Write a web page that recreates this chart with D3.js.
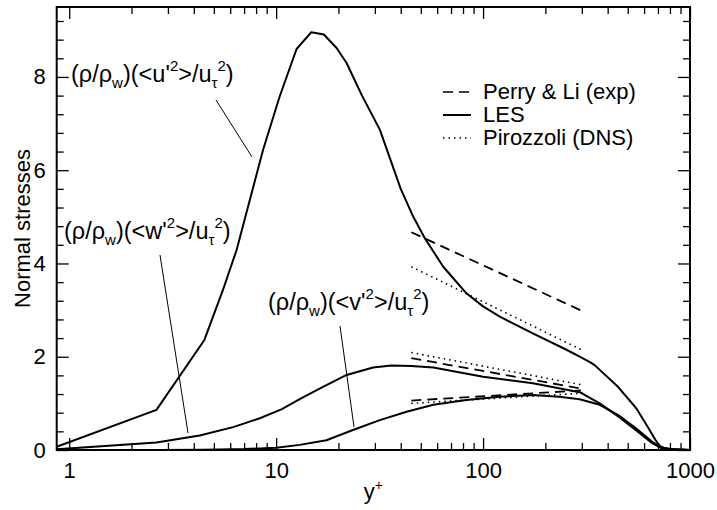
<!DOCTYPE html>
<html>
<head>
<meta charset="utf-8">
<script src="https://cdn.jsdelivr.net/npm/d3@7"></script>
<style>
html,body{margin:0;padding:0;background:#fff;}
svg text{font-family:"Liberation Sans",Arial,Helvetica,sans-serif;fill:#000;}
</style>
</head>
<body>
<svg id="chart" width="717" height="510"></svg>
<script>
// ---- data ----
const xTickValues = [1, 10, 100, 1000];
const xTickLabels = ["1", "10", "100", "1000"];
const yTickValues = [0, 2, 4, 6, 8];
const yTickLabels = ["0", "2", "4", "6", "8"];

// LES (solid)
const lesU_x = [0.87, 2.64, 4.5, 5.5, 6.44, 7.46, 8.65, 10.4, 12.55, 14.8, 17.0, 19.6, 21.9, 26, 31.7, 40, 46, 52.3, 64.2, 83.1, 100, 120.5, 174, 253, 293, 330, 346, 450, 551, 620, 680, 714, 760, 850, 1000];
const lesU_y = [0.07, 0.86, 2.36, 3.4, 4.29, 5.36, 6.44, 7.58, 8.60, 8.96, 8.91, 8.62, 8.30, 7.6, 6.87, 5.6, 5.0, 4.54, 3.93, 3.36, 3.08, 2.86, 2.50, 2.15, 2.0, 1.88, 1.82, 1.35, 0.89, 0.52, 0.22, 0.09, 0.03, 0.01, 0.0];
const lesW_x = [0.87, 2.64, 4.27, 6.2, 8.34, 10.6, 13.0, 16.3, 21.9, 29.4, 36, 45, 57.5, 100, 174, 293, 366, 450, 550, 650, 720, 800, 1000];
const lesW_y = [0.015, 0.16, 0.31, 0.49, 0.68, 0.87, 1.09, 1.32, 1.61, 1.77, 1.81, 1.80, 1.77, 1.57, 1.43, 1.24, 1.0, 0.72, 0.42, 0.16, 0.05, 0.015, 0.0];
const lesV_x = [0.87, 2.64, 4.5, 7, 10, 13, 17.5, 23.5, 31.7, 42.7, 57.5, 83, 120, 174, 233, 293, 366, 450, 550, 650, 720, 800, 1000];
const lesV_y = [0.0, 0.002, 0.008, 0.02, 0.05, 0.11, 0.21, 0.43, 0.64, 0.82, 0.97, 1.07, 1.14, 1.18, 1.14, 1.09, 0.97, 0.75, 0.46, 0.19, 0.06, 0.02, 0.0];

// Perry & Li (exp) (dashed)
const expX = [45, 305];
const expU = [4.67, 2.97];
const expW = [1.97, 1.31];
const expV = [1.06, 1.28];

// Pirozzoli (DNS) (dotted)
const dnsX = [45, 305];
const dnsU = [3.93, 2.13];
const dnsW = [2.09, 1.39];
const dnsV = [1.00, 1.22];

const legendLabels = ["Perry & Li (exp)", "LES", "Pirozzoli (DNS)"];

// ---- layout ----
const svg = d3.select("#chart");
const L = 56.7, R = 690, T = 7, B = 450;
const x = d3.scaleLog().domain([0.87, 1000]).range([L, R]);
const y = d3.scaleLinear().domain([0, 9.5]).range([B, T]);
const FS = 22;

const g = svg.append("g");

svg.append("defs").append("clipPath").attr("id", "clip")
  .append("rect").attr("x", L).attr("y", T).attr("width", R - L).attr("height", B - T);

// ticks (inward on all sides)
const xMinor = [];
[1, 10, 100].forEach(d => { for (let k = 2; k <= 9; k++) xMinor.push(d * k); });
const yMinor = d3.range(0, 9.5, 0.4).filter(v => Math.abs(v % 2) > 1e-6 && Math.abs(v % 2 - 2) > 1e-6);

const bottomAxis = d3.axisBottom(x).tickValues(xTickValues).tickFormat((d, i) => xTickLabels[i]).tickSizeInner(-12).tickSizeOuter(0).tickPadding(12);
const bottomMinor = d3.axisBottom(x).tickValues(xMinor).tickFormat("").tickSizeInner(-7).tickSizeOuter(0);
const topAxis = d3.axisTop(x).tickValues(xTickValues).tickFormat("").tickSizeInner(-12).tickSizeOuter(0);
const topMinor = d3.axisTop(x).tickValues(xMinor).tickFormat("").tickSizeInner(-7).tickSizeOuter(0);
const leftAxis = d3.axisLeft(y).tickValues(yTickValues).tickFormat((d, i) => yTickLabels[i]).tickSizeInner(-12).tickSizeOuter(0).tickPadding(11);
const leftMinor = d3.axisLeft(y).tickValues(yMinor).tickFormat("").tickSizeInner(-7).tickSizeOuter(0);
const rightAxis = d3.axisRight(y).tickValues(yTickValues).tickFormat("").tickSizeInner(-12).tickSizeOuter(0);
const rightMinor = d3.axisRight(y).tickValues(yMinor).tickFormat("").tickSizeInner(-7).tickSizeOuter(0);

function styleAxis(sel) {
  sel.select(".domain").remove();
  sel.selectAll("line").attr("stroke", "#000").attr("stroke-width", 1.3);
  sel.selectAll("text").attr("font-size", FS).attr("font-family", "Liberation Sans, Arial, sans-serif").attr("fill", "#000");
}
g.append("g").attr("transform", `translate(0,${B})`).call(bottomAxis).call(styleAxis);
g.append("g").attr("transform", `translate(0,${B})`).call(bottomMinor).call(styleAxis);
g.append("g").attr("transform", `translate(0,${T})`).call(topAxis).call(styleAxis);
g.append("g").attr("transform", `translate(0,${T})`).call(topMinor).call(styleAxis);
g.append("g").attr("transform", `translate(${L},0)`).call(leftAxis).call(styleAxis);
g.append("g").attr("transform", `translate(${L},0)`).call(leftMinor).call(styleAxis);
g.append("g").attr("transform", `translate(${R},0)`).call(rightAxis).call(styleAxis);
g.append("g").attr("transform", `translate(${R},0)`).call(rightMinor).call(styleAxis);

// frame
g.append("rect").attr("x", L).attr("y", T).attr("width", R - L).attr("height", B - T)
  .attr("fill", "none").attr("stroke", "#000").attr("stroke-width", 2);

// curves
const line = d3.line().x(d => x(d[0])).y(d => y(d[1]));
const plot = g.append("g").attr("clip-path", "url(#clip)");
function draw(xs, ys, dash, w) {
  plot.append("path").datum(xs.map((v, i) => [v, ys[i]]))
    .attr("d", line).attr("fill", "none").attr("stroke", "#000")
    .attr("stroke-width", w).attr("stroke-dasharray", dash)
    .attr("stroke-linejoin", "round");
}
draw(lesU_x, lesU_y, null, 2);
draw(lesW_x, lesW_y, null, 2);
draw(lesV_x, lesV_y, null, 2);
draw(expX, expU, "10,6", 1.8);
draw(expX, expW, "10,6", 1.8);
draw(expX, expV, "10,6", 1.8);
draw(dnsX, dnsU, "1.5,4", 1.6);
draw(dnsX, dnsW, "1.5,4", 1.6);
draw(dnsX, dnsV, "1.5,4", 1.6);

// axis titles
g.append("text").attr("x", (L + R) / 2).attr("y", 499).attr("text-anchor", "middle").attr("font-size", FS)
  .text("y").append("tspan").attr("dy", -9).attr("font-size", 14).text("+");
g.append("text").attr("transform", `translate(30,${(T + B) / 2}) rotate(-90)`)
  .attr("text-anchor", "middle").attr("font-size", FS).text("Normal stresses");

// annotations
const AFS = 23.5, SFS = 15;
function richLabel(px, py, comp) {
  const parts = [
    { t: "(ρ/ρ" }, { t: "w", s: 1 }, { t: ")(<" + comp + "'" }, { t: "2", s: -1 },
    { t: ">/u" }, { t: "τ", s: 1 }, { t: "2", s: -1 }, { t: ")" }
  ];
  const t = g.append("text").attr("x", px).attr("y", py).attr("font-size", AFS);
  let cur = 0;
  parts.forEach(p => {
    const target = p.s === 1 ? 6 : p.s === -1 ? -11 : 0;
    t.append("tspan").attr("dy", target - cur).attr("font-size", p.s ? SFS : AFS).text(p.t);
    cur = target;
  });
}
richLabel(71, 82, "u");
richLabel(64, 239, "w");
richLabel(268, 310, "v");

function pointer(x1, y1, x2, y2) {
  g.append("line").attr("x1", x1).attr("y1", y1).attr("x2", x2).attr("y2", y2)
    .attr("stroke", "#000").attr("stroke-width", 1);
}
pointer(216, 100, 252, 157);
pointer(160, 255, 188, 433);
pointer(340, 326, 354, 427);

// legend
const legY = [99, 122, 145];
const legDash = ["10,6", null, "1.5,4"];
legendLabels.forEach((lab, i) => {
  g.append("line").attr("x1", 443).attr("x2", 471).attr("y1", legY[i] - 7).attr("y2", legY[i] - 7)
    .attr("stroke", "#000").attr("stroke-width", i === 1 ? 2 : 1.6).attr("stroke-dasharray", legDash[i]);
  g.append("text").attr("x", 483).attr("y", legY[i]).attr("font-size", FS).text(lab);
});
</script>
</body>
</html>
